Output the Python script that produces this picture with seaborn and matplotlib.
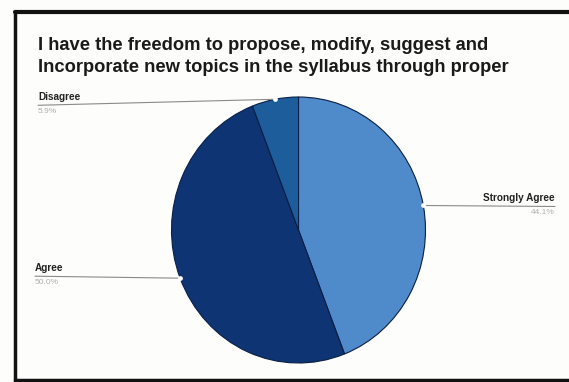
import numpy as np
import seaborn as sns
import matplotlib.pyplot as plt
from matplotlib.lines import Line2D

labels = ["Strongly Agree", "Agree", "Disagree"]
values = [44.1, 50.0, 5.9]
pct_labels = ["44.1%", "50.0%", "5.9%"]
colors = ["#4f8acb", "#0f3474", "#1d5d9c"]
title = ("I have the freedom to propose, modify, suggest and\n"
         "Incorporate new topics in the syllabus through proper")

sns.set_theme(style="white")
plt.rcParams["font.family"] = ["Liberation Sans", "DejaVu Sans"]

W, H = 569, 382
fig = plt.figure(figsize=(W / 100, H / 100), dpi=100)
fig.patch.set_facecolor("#fdfdfb")

# pie centre and radii in pixels (from top-left); slightly taller than wide
cx, cy, rx, ry = 298.5, 230, 127, 133
ax = fig.add_axes([(cx - rx) / W, (H - cy - ry) / H, 2 * rx / W, 2 * ry / H])
wedges, _ = ax.pie(values, colors=colors, startangle=90, counterclock=False,
                   wedgeprops=dict(edgecolor="#0a1f45", linewidth=0.8))
ax.set_xlim(-1, 1)
ax.set_ylim(-1, 1)
ax.set_aspect("auto")
ax.axis("off")

fig.text(38 / W, 1 - 37 / H, title, fontsize=13.2, fontweight="bold",
         color="#1a1a1a", va="top", ha="left", linespacing=1.38)

# label lines: (text x px, alignment, drop of the outer end in px) per slice
label_pos = {"Strongly Agree": (555, "right", 1), "Agree": (35, "left", -2),
             "Disagree": (38, "left", 6)}

cum = np.cumsum([0] + values)
for i, lab in enumerate(labels):
    mid = 90 - (cum[i] + cum[i + 1]) / 2 * 3.6
    px = cx + rx * np.cos(np.radians(mid))
    py = cy - ry * np.sin(np.radians(mid))
    tx, ha, dy = label_pos[lab]
    ly = py + dy
    fig.add_artist(Line2D([px / W, tx / W], [1 - py / H, 1 - ly / H],
                          color="#8a8a8a", lw=0.8))
    fig.add_artist(Line2D([px / W], [1 - py / H], marker="o", ms=2.4,
                          color="white", lw=0))
    fig.text(tx / W, 1 - (ly - 3) / H, lab, fontsize=7.2, fontweight="bold",
             color="#222222", ha=ha, va="bottom")
    fig.text(tx / W, 1 - (ly + 3) / H, pct_labels[i], fontsize=6, color="#b0b0b0",
             ha=ha, va="top")

# photo frame
fig.add_artist(Line2D([15 / W, 1], [1 - 12 / H, 1 - 12 / H], color="#111111", lw=3))
fig.add_artist(Line2D([15 / W, 15 / W], [1 - 12 / H, 0], color="#111111", lw=2.5))
fig.add_artist(Line2D([15 / W, 1], [2 / H, 2 / H], color="#111111", lw=2.5))

fig.savefig("out.png", dpi=100, facecolor=fig.get_facecolor())
